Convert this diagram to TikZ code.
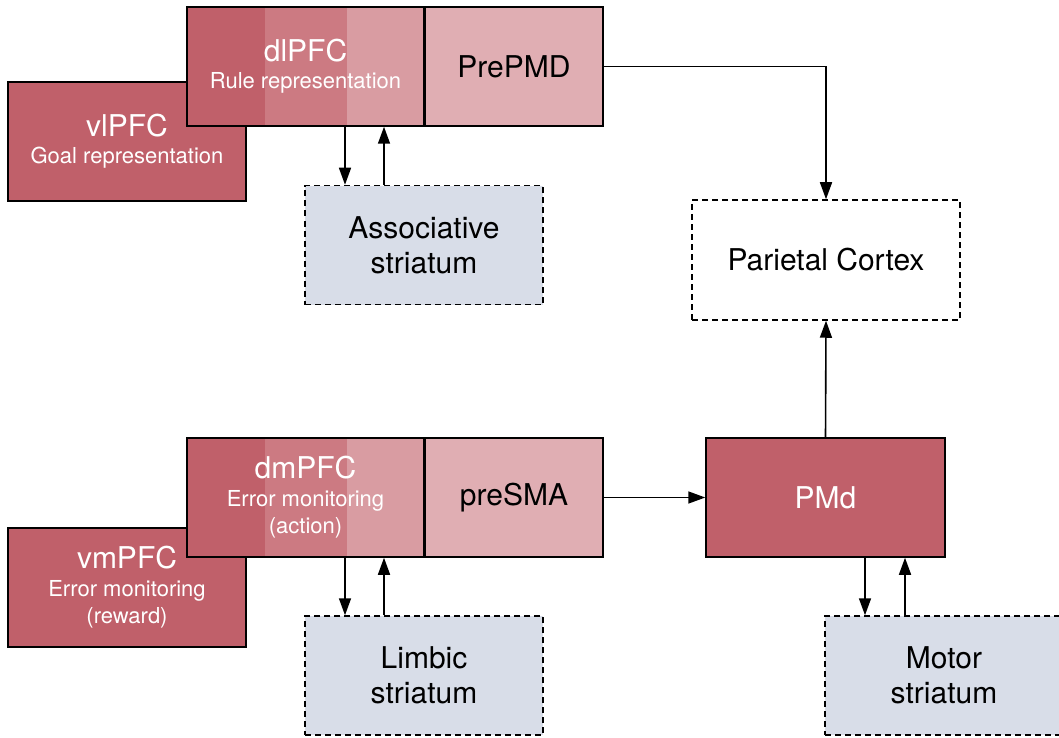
\documentclass[tikz,border=0pt]{standalone}
\usepackage{fontspec}
\setmainfont{TeX Gyre Heros}
\usetikzlibrary{arrows.meta}
\definecolor{rdark}{HTML}{C0606A}
\definecolor{rmid}{HTML}{CC7A82}
\definecolor{rlight}{HTML}{D99CA2}
\definecolor{rpale}{HTML}{E0AEB3}
\definecolor{stri}{HTML}{D8DDE8}
\begin{document}
\begin{tikzpicture}[x=1pt,y=-1pt,
  box/.style={draw=black, line width=1.5pt, inner sep=0pt, align=center,
    minimum height=119pt, font=\fontsize{22}{27}\selectfont},
  redbox/.style={box, fill=rdark, text=white},
  stripebox/.style={box, fill=rdark, text=white, path picture={
    \fill[rmid] ([xshift=78pt]path picture bounding box.south west) rectangle ([xshift=160pt]path picture bounding box.north west);
    \fill[rlight] ([xshift=160pt]path picture bounding box.south west) rectangle (path picture bounding box.north east);}},
  palebox/.style={box, fill=rpale, text=black, font=\fontsize{30}{34}\selectfont},
  dashbox/.style={box, dash pattern=on 6pt off 4pt, text=black, font=\fontsize{30}{35}\selectfont},
  arr/.style={line width=1.6pt, -{Triangle[length=17pt,width=12pt]}}
]
\useasboundingbox (0,0) rectangle (1059,738);
\newcommand{\bigt}{\fontsize{30}{27}\selectfont}
% top row
\node[redbox, minimum width=238pt] (vlpfc) at (127,141.5) {\bigt vlPFC\\Goal representation};
\node[stripebox, minimum width=237pt] (dlpfc) at (305.5,66.5) {\bigt dlPFC\\Rule representation};
\node[palebox, minimum width=178pt] (prepmd) at (514,66.5) {PrePMD};
\node[dashbox, fill=stri, minimum width=238pt] (assoc) at (424,245) {Associative\\striatum};
\node[dashbox, fill=white, minimum width=268pt, minimum height=120pt] (parietal) at (826,260) {Parietal Cortex};
% bottom row
\node[redbox, minimum width=238pt] (vmpfc) at (127,587.5) {\bigt vmPFC\\[1pt]Error monitoring\\(reward)};
\node[stripebox, minimum width=237pt] (dmpfc) at (305.5,497.5) {\bigt dmPFC\\[1pt]Error monitoring\\(action)};
\node[palebox, minimum width=178pt] (presma) at (514,497.5) {preSMA};
\node[dashbox, fill=stri, minimum width=238pt] (limbic) at (424,675.5) {Limbic\\striatum};
\node[redbox, minimum width=239pt, font=\fontsize{30}{34}\selectfont] (pmd) at (825.5,497.5) {PMd};
\node[dashbox, fill=stri, minimum width=238pt] (motor) at (944,675.5) {Motor\\striatum};
% connectors
\draw[arr] ([xshift=39.5pt]dlpfc.south) -- ([xshift=-79pt]assoc.north);
\draw[arr] ([xshift=-40pt]assoc.north) -- ([xshift=78.5pt]dlpfc.south);
\draw[arr] ([xshift=39.5pt]dmpfc.south) -- ([xshift=-79pt]limbic.north);
\draw[arr] ([xshift=-40pt]limbic.north) -- ([xshift=78.5pt]dmpfc.south);
\draw[arr] ([xshift=39.5pt]pmd.south) -- ([xshift=-79pt]motor.north);
\draw[arr] ([xshift=-39pt]motor.north) -- ([xshift=79.5pt]pmd.south);
\draw[arr] (prepmd.east) -| (parietal.north);
\draw[arr] (pmd.north) -- (parietal.south);
\draw[arr] (presma.east) -- (pmd.west);
\end{tikzpicture}
\end{document}
